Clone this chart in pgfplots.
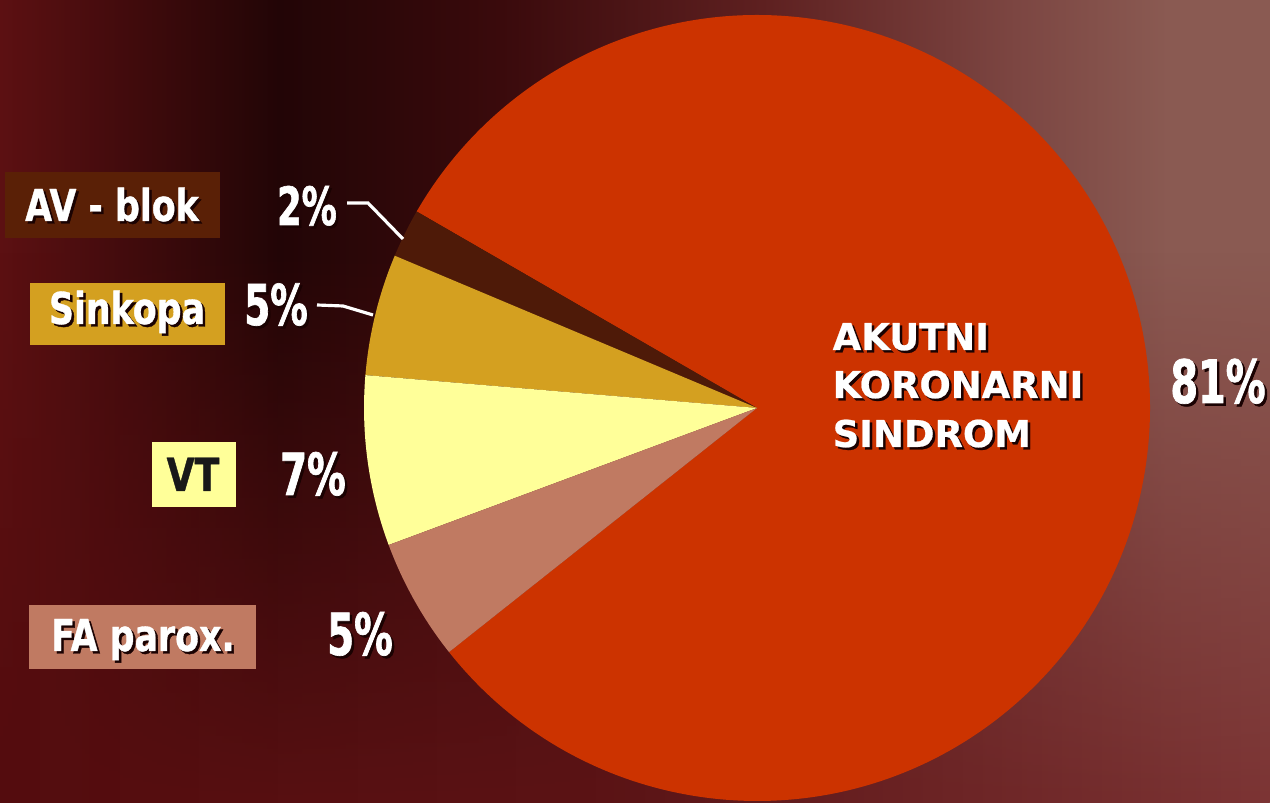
\documentclass[border=0pt]{standalone}
\usepackage{pgfplots}
\pgfplotsset{compat=1.18}
\usepackage{pgfplotstable}
\usepackage{fontspec}
\setmainfont{DejaVu Sans}
\newfontfamily\aksfont{DejaVu Sans}[FakeBold=0.6]
\newfontfamily\labfont{DejaVu Sans Condensed}[FakeStretch=0.88, FakeBold=0.8]
\newfontfamily\pctfont{DejaVu Sans Condensed}[FakeStretch=0.74, FakeBold=1.2]
\usetikzlibrary{fadings}

\definecolor{aks}{HTML}{CC3300}
\definecolor{avb}{HTML}{4E1A08}
\definecolor{avbox}{HTML}{5A2006}
\definecolor{sink}{HTML}{D4A020}
\definecolor{vt}{HTML}{FFFF99}
\definecolor{fa}{HTML}{C07A62}
\definecolor{shadowc}{HTML}{1A0202}

\definecolor{bg0}{HTML}{5C1012}
\definecolor{bg1}{HTML}{220506}
\definecolor{bg2}{HTML}{3A0A0C}
\definecolor{bg3}{HTML}{5E2020}
\definecolor{bg4}{HTML}{7C4642}
\definecolor{bg5}{HTML}{8A5A52}
\definecolor{bl0}{HTML}{540C0E}
\definecolor{bl1}{HTML}{5C1416}
\definecolor{bl2}{HTML}{7C3434}

\pgfdeclarehorizontalshading{bgh}{100bp}{color(0bp)=(bg0); color(25bp)=(bg0); color(36bp)=(bg1); color(44.7bp)=(bg2); color(55bp)=(bg3); color(65bp)=(bg4); color(71bp)=(bg5); color(75bp)=(bg5); color(100bp)=(bg5)}
\pgfdeclarehorizontalshading{bgl}{100bp}{color(0bp)=(bl0); color(25bp)=(bl0); color(50bp)=(bl1); color(75bp)=(bl2); color(100bp)=(bl2)}

\pgfplotstableread{
label value color
AKS 81 aks
AV 2 avb
Sinkopa 5 sink
VT 7 vt
FA 5 fa
}\pietable

% text with a drop shadow
\newcommand\shtext[4]{% #1 position, #2 font, #3 text colour, #4 text
  \node[anchor=base, inner sep=0pt, text=shadowc, xshift=0.025cm, yshift=-0.025cm, font=#2] at #1 {#4};
  \node[anchor=base, inner sep=0pt, text=#3, font=#2] at #1 {#4};}

\begin{document}
\begin{tikzpicture}
\path[use as bounding box] (0,0) rectangle (12.7,8.03);
\begin{scope}
  \clip (0,0) rectangle (12.7,8.03);
  \shade[shading=bgh] (0,0) rectangle (12.7,8.03);
  \shade[shading=bgl, path fading=north] (0,0) rectangle (12.7,5.5);
\end{scope}

\begin{axis}[at={(0,0)}, anchor=south west, scale only axis,
  width=12.7cm, height=8.03cm, xmin=0, xmax=12.7, ymin=0, ymax=8.03,
  hide axis, clip=false]
  \gdef\cur{-141.6}
  \pgfplotsinvokeforeach{0,...,4}{
    \pgfplotstablegetelem{#1}{value}\of\pietable \let\val\pgfplotsretval
    \pgfplotstablegetelem{#1}{color}\of\pietable \let\col\pgfplotsretval
    \pgfmathsetmacro\nxt{\cur+3.6*\val}
    \edef\tmp{\noexpand\fill[\col] (axis cs:7.57,3.95) -- ++(\cur:3.93cm) arc[start angle=\cur, end angle=\nxt, radius=3.93cm] -- cycle;}
    \tmp
    \global\let\cur\nxt
  }
\end{axis}

% category boxes
\fill[avbox] (0.05,5.65) rectangle (2.20,6.31);
\fill[sink] (0.30,4.58) rectangle (2.25,5.20);
\fill[vt] (1.52,2.96) rectangle (2.36,3.61);
\fill[fa] (0.29,1.34) rectangle (2.56,1.98);

\shtext{(1.12,5.82)}{\labfont\bfseries\fontsize{12.5}{14}\selectfont}{white}{AV - blok}
\shtext{(1.27,4.79)}{\labfont\bfseries\fontsize{12.5}{14}\selectfont}{white}{Sinkopa}
\node[anchor=base, inner sep=0pt, text=black!90, font=\labfont\bfseries\fontsize{13}{14}\selectfont] at (1.93,3.12) {VT};
\shtext{(1.43,1.52)}{\labfont\bfseries\fontsize{12.5}{14}\selectfont}{white}{FA parox.}

% percentages
\shtext{(3.07,5.78)}{\pctfont\bfseries\fontsize{15}{16}\selectfont}{white}{2\%}
\shtext{(2.76,4.78)}{\pctfont\bfseries\fontsize{16}{17}\selectfont}{white}{5\%}
\shtext{(3.13,3.08)}{\pctfont\bfseries\fontsize{16.5}{17}\selectfont}{white}{7\%}
\shtext{(3.60,1.48)}{\pctfont\bfseries\fontsize{16.5}{17}\selectfont}{white}{5\%}
\shtext{(12.18,4.00)}{\pctfont\bfseries\fontsize{17}{19}\selectfont}{white}{81\%}

% leader lines
\draw[white, line width=0.9pt] (3.47,6.00) -- (3.68,6.00) -- (4.03,5.64);
\draw[white, line width=0.9pt] (3.17,4.98) -- (3.43,4.97) -- (3.73,4.88);

% main slice label
\begin{scope}[every node/.style={anchor=base west, inner sep=0pt}]
  \node[text=shadowc, font=\aksfont\bfseries\fontsize{10.5}{12}\selectfont] at (8.345,4.505) {AKUTNI};
  \node[text=white, font=\aksfont\bfseries\fontsize{10.5}{12}\selectfont] at (8.32,4.53) {AKUTNI};
  \node[text=shadowc, font=\aksfont\bfseries\fontsize{10.5}{12}\selectfont] at (8.345,4.025) {KORONARNI};
  \node[text=white, font=\aksfont\bfseries\fontsize{10.5}{12}\selectfont] at (8.32,4.05) {KORONARNI};
  \node[text=shadowc, font=\aksfont\bfseries\fontsize{10.5}{12}\selectfont] at (8.345,3.535) {SINDROM};
  \node[text=white, font=\aksfont\bfseries\fontsize{10.5}{12}\selectfont] at (8.32,3.56) {SINDROM};
\end{scope}
\end{tikzpicture}
\end{document}
